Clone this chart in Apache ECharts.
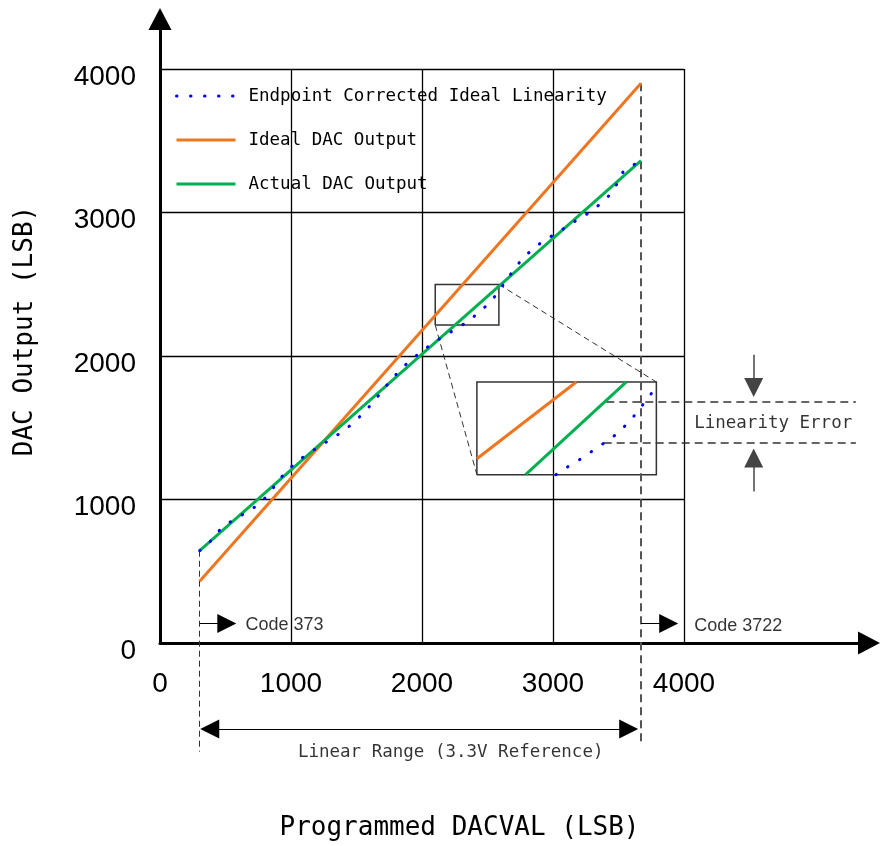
<!DOCTYPE html>
<html>
<head>
<meta charset="utf-8">
<script src="https://cdn.jsdelivr.net/npm/echarts@6/dist/echarts.min.js"></script>
<style>
  html, body { margin: 0; padding: 0; background: #fff; }
  #chart { width: 880px; height: 846px; }
</style>
</head>
<body>
<div id="chart"></div>
<script>
// axis ticks
const axisTicks = [0, 1000, 2000, 3000, 4000]

// ideal / actual transfer lines (code range start -> end)
const lineX = [303, 3672]
const idealY = [430, 3900]
const actualY = [643, 3361]

// endpoint corrected ideal linearity (dotted)
const endpointX = [303, 382, 448, 529, 616, 707, 789, 856, 917, 988, 1066, 1154, 1240, 1329, 1416, 1494, 1568, 1637, 1701, 1767, 1836, 1916, 1996, 2080, 2167, 2258, 2348, 2429, 2506, 2574, 2633, 2693, 2758, 2831, 2915, 3002, 3091, 3178, 3267, 3351, 3427, 3486, 3534, 3616, 3672]
const endpointY = [643, 706, 780, 840, 887, 936, 997, 1070, 1147, 1217, 1279, 1333, 1384, 1434, 1488, 1549, 1617, 1688, 1763, 1835, 1907, 1973, 2031, 2088, 2139, 2188, 2239, 2300, 2362, 2434, 2513, 2591, 2669, 2734, 2794, 2843, 2894, 2945, 2994, 3052, 3117, 3196, 3282, 3333, 3361]

// magnified inset
const zoomBoxX = [2101, 2587]
const zoomBoxY = [2216, 2499]
const insetBoxX = [2419, 3789]
const insetBoxY = [1173, 1819]
const insetIdealX = [2419, 3178]
const insetIdealY = [1284, 1819]
const insetActualX = [2791, 3560]
const insetActualY = [1173, 1819]
const insetDotsX = [3022, 3109, 3198, 3285, 3371, 3458, 3534, 3606, 3672, 3736, 3763]
const insetDotsY = [1173, 1226, 1275, 1328, 1382, 1436, 1498, 1568, 1645, 1718, 1756]

// linearity error marks
const errorY = [1678, 1392]
const errorStartX = [3407, 3387]
const errorEndX = 5312
const errorArrowX = 4532

// annotation texts
const noteTexts = ['Code 373', 'Code 3722', 'Linearity Error', 'Linear Range (3.3V Reference)']
const noteX = [649, 4074, 4074, 1049]
const noteY = [128, 121, 1528, -762]

const seriesNames = ['Endpoint Corrected Ideal Linearity', 'Ideal DAC Output', 'Actual DAC Output']

const ORANGE = '#EE7620'
const GREEN = '#00B050'
const BLUE = '#0000FF'
const MONO = 'DejaVu Sans Mono'

const zip = (xs, ys) => xs.map((x, i) => [x, ys[i]])
const rect = (xs, ys) => [[xs[0], ys[0]], [xs[1], ys[0]], [xs[1], ys[1]], [xs[0], ys[1]], [xs[0], ys[0]]]

const chart = echarts.init(document.getElementById('chart'))

const option = {
  animation: false,
  backgroundColor: '#fff',
  grid: [
    { left: 160, right: 196, top: 69, bottom: 203 },
    // only used for the long axis lines with arrows
    { left: 160, right: 11, top: 19, bottom: 203 },
  ],
  legend: {
    data: seriesNames,
    orient: 'vertical',
    left: 170,
    top: 81,
    itemWidth: 59,
    itemHeight: 14,
    itemGap: 24,
    lineStyle: { width: 3 },
    itemStyle: { opacity: 0 },
    textStyle: {
      fontFamily: MONO,
      fontSize: 17.5,
      lineHeight: 20,
      color: '#000',
      padding: [0, 0, 0, 8],
    },
  },
  xAxis: [
    {
      type: 'value',
      gridIndex: 0,
      min: 0,
      max: 4000,
      interval: 1000,
      name: 'Programmed DACVAL (LSB)',
      nameLocation: 'middle',
      nameGap: 172,
      nameTextStyle: { fontFamily: MONO, fontSize: 26, color: '#000', padding: [0, 0, 0, 75] },
      axisLine: { show: false },
      axisTick: { show: false },
      axisLabel: {
        fontFamily: 'Liberation Sans',
        fontSize: 28,
        color: '#000',
        margin: 27,
        formatter: (v) => (axisTicks.includes(v) ? String(v) : ''),
      },
      splitLine: { show: true, lineStyle: { color: '#000', width: 1.3 } },
    },
    {
      type: 'value',
      gridIndex: 1,
      min: 0,
      max: 1,
      axisLine: { show: true, symbol: ['none', 'triangle'], symbolSize: [23, 22], lineStyle: { color: '#000', width: 3 } },
      axisTick: { show: false },
      axisLabel: { show: false },
      splitLine: { show: false },
    },
  ],
  yAxis: [
    {
      type: 'value',
      gridIndex: 0,
      min: 0,
      max: 4000,
      interval: 1000,
      name: 'DAC Output (LSB)',
      nameLocation: 'middle',
      nameGap: 122,
      nameTextStyle: { fontFamily: MONO, fontSize: 26, color: '#000', padding: [0, 0, 0, 50] },
      axisLine: { show: false },
      axisTick: { show: false },
      axisLabel: {
        fontFamily: 'Liberation Sans',
        fontSize: 28,
        color: '#000',
        margin: 24,
        lineHeight: 44,
        verticalAlign: 'top',
        padding: [-14, 0, 0, 0],
        formatter: (v) => String(v),
      },
      splitLine: { show: true, lineStyle: { color: '#000', width: 1.3 } },
    },
    {
      type: 'value',
      gridIndex: 1,
      min: 0,
      max: 1,
      axisLine: { show: true, symbol: ['none', 'triangle'], symbolSize: [23, 22], lineStyle: { color: '#000', width: 3 } },
      axisTick: { show: false },
      axisLabel: { show: false },
      splitLine: { show: false },
    },
  ],
  series: [
    {
      name: seriesNames[1],
      type: 'line',
      symbol: 'none',
      data: zip(lineX, idealY),
      lineStyle: { color: ORANGE, width: 3 },
      itemStyle: { color: ORANGE },
      z: 3,
    },
    {
      name: seriesNames[2],
      type: 'line',
      symbol: 'none',
      data: zip(lineX, actualY),
      lineStyle: { color: GREEN, width: 3 },
      itemStyle: { color: GREEN },
      z: 3,
    },
    {
      name: seriesNames[0],
      type: 'line',
      symbol: 'none',
      data: zip(endpointX, endpointY),
      lineStyle: { color: BLUE, width: 3, type: [0.5, 13.5], cap: 'round' },
      itemStyle: { color: BLUE },
      z: 4,
    },
    // inset content
    {
      name: 'inset ideal',
      type: 'line',
      symbol: 'none',
      data: zip(insetIdealX, insetIdealY),
      lineStyle: { color: ORANGE, width: 3 },
      z: 3,
    },
    {
      name: 'inset actual',
      type: 'line',
      symbol: 'none',
      data: zip(insetActualX, insetActualY),
      lineStyle: { color: GREEN, width: 3 },
      z: 3,
    },
    {
      name: 'inset endpoint',
      type: 'line',
      symbol: 'none',
      data: zip(insetDotsX, insetDotsY),
      lineStyle: { color: BLUE, width: 3, type: [0.5, 13.5], cap: 'round' },
      z: 4,
    },
    // boxes
    {
      type: 'lines',
      coordinateSystem: 'cartesian2d',
      polyline: true,
      clip: false,
      silent: true,
      lineStyle: { color: '#333', width: 1.5, opacity: 1 },
      data: [{ coords: rect(zoomBoxX, zoomBoxY) }, { coords: rect(insetBoxX, insetBoxY) }],
      z: 2,
    },
    // dashed guide lines
    {
      type: 'lines',
      coordinateSystem: 'cartesian2d',
      clip: false,
      silent: true,
      lineStyle: { color: '#333', width: 1, type: [6, 4], opacity: 1 },
      data: [
        { coords: [[zoomBoxX[1], zoomBoxY[1]], [insetBoxX[1], insetBoxY[1]]] },
        { coords: [[zoomBoxX[0], zoomBoxY[0]], [insetBoxX[0], insetBoxY[0]]] },
        { coords: [[lineX[0], actualY[0]], [lineX[0], -757]] },
        { coords: [[errorStartX[0], errorY[0]], [errorEndX, errorY[0]]], lineStyle: { width: 1.5, type: [8, 5] } },
        { coords: [[errorStartX[1], errorY[1]], [errorEndX, errorY[1]]], lineStyle: { width: 1.5, type: [8, 5] } },
        { coords: [[lineX[1], idealY[1]], [lineX[1], -719]], lineStyle: { color: '#555', width: 2, type: [8, 5] } },
      ],
      z: 2,
    },
    // arrows
    {
      type: 'lines',
      coordinateSystem: 'cartesian2d',
      clip: false,
      silent: true,
      symbol: ['none', 'triangle'],
      symbolSize: 19,
      lineStyle: { color: '#000', width: 1, opacity: 1 },
      data: [
        { coords: [[lineX[0], 136], [510, 136]] },
        { coords: [[lineX[1], 136], [3883, 136]] },
        { coords: [[errorArrowX, 2009], [errorArrowX, 1780]], lineStyle: { color: '#444', width: 1.5 } },
        { coords: [[errorArrowX, 1056], [errorArrowX, 1289]], lineStyle: { color: '#444', width: 1.5 } },
        { coords: [[380, -599], [3578, -599]], symbol: ['triangle', 'triangle'] },
      ],
      z: 2,
    },
    // annotation texts
    {
      type: 'scatter',
      clip: false,
      silent: true,
      symbolSize: 1,
      itemStyle: { color: 'rgba(0,0,0,0)' },
      label: {
        show: true,
        position: 'right',
        distance: 0,
        formatter: '{b}',
        color: '#000',
        fontFamily: MONO,
        fontSize: 17.5,
      },
      data: noteTexts.map((t, i) => ({
        name: t,
        value: [noteX[i], noteY[i]],
        label: i < 2 ? { fontFamily: 'Liberation Sans', fontSize: 18 } : undefined,
      })),
      z: 5,
    },
  ],
}

chart.setOption(option)
</script>
</body>
</html>
